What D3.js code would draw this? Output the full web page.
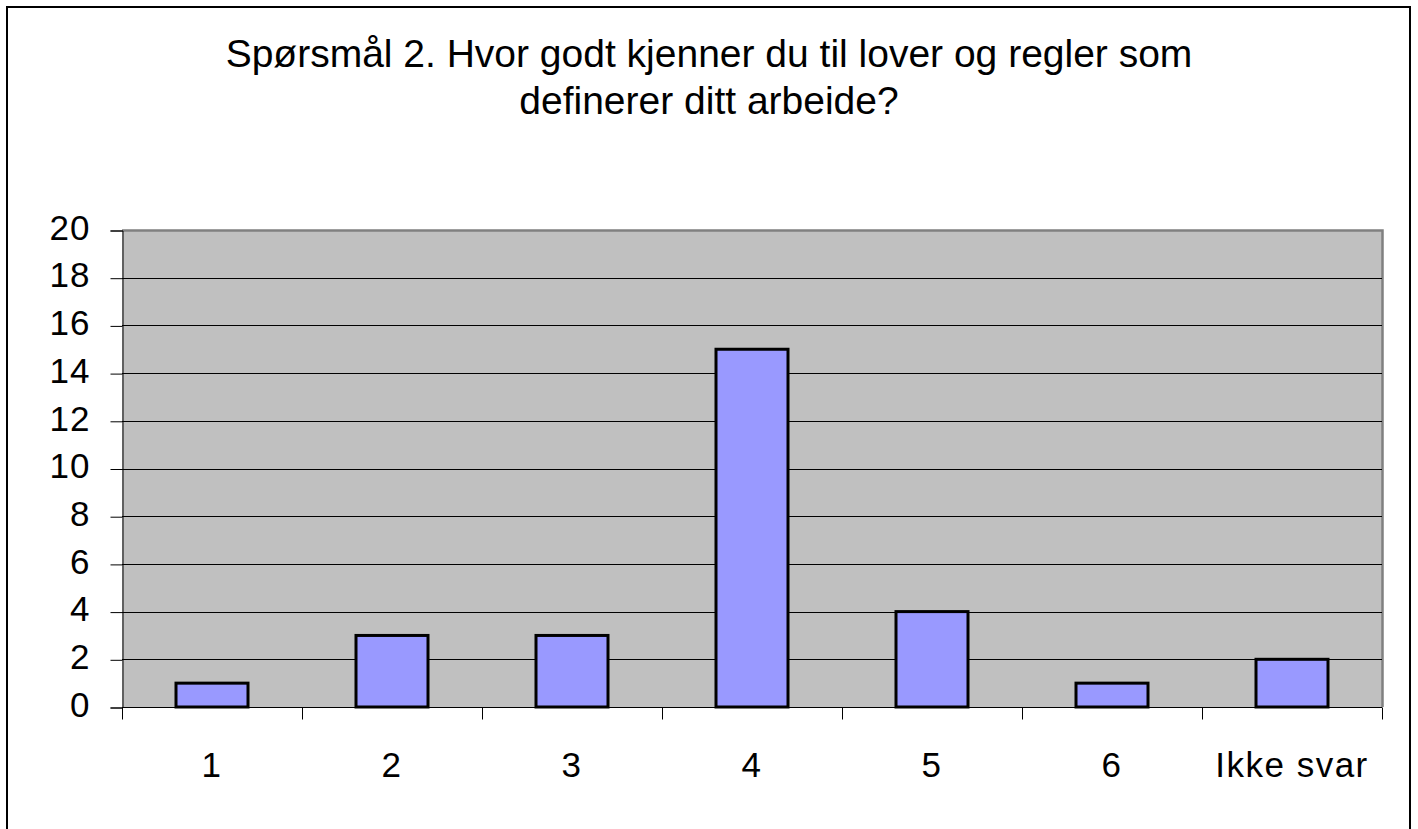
<!DOCTYPE html>
<html>
<head>
<meta charset="utf-8">
<script src="https://cdn.jsdelivr.net/npm/d3@7"></script>
<style>
  body { margin: 0; background: #fff; }
  svg { display: block; font-family: "Liberation Sans", Arial, sans-serif; }
</style>
</head>
<body>
<svg id="chart" width="1418" height="829"></svg>
<script>
// Chart data
var categories = ["1", "2", "3", "4", "5", "6", "Ikke svar"];
var counts = [1, 3, 3, 15, 4, 1, 2];
var yTicks = [0, 2, 4, 6, 8, 10, 12, 14, 16, 18, 20];
var titleLines = ["Spørsmål 2. Hvor godt kjenner du til lover og regler som", "definerer ditt arbeide?"];

var svg = d3.select("#chart");

// Plot area
var plot = {left: 122, top: 230, right: 1382, bottom: 707};

// Outer frame
svg.append("rect")
    .attr("x", 7).attr("y", 7)
    .attr("width", 1403).attr("height", 850)
    .style("fill", "white")
    .style("stroke", "black")
    .style("stroke-width", 2);

// Scales
var x = d3.scaleBand()
    .domain(categories)
    .range([plot.left, plot.right])
    .paddingInner(0.6)
    .paddingOuter(0.3);

var xTickScale = d3.scaleBand()
    .domain(categories)
    .range([plot.left, plot.right]);

var y = d3.scaleLinear()
    .domain([0, 20])
    .range([plot.bottom, plot.top]);

// Plot background
svg.append("rect")
    .attr("x", plot.left).attr("y", plot.top)
    .attr("width", plot.right - plot.left)
    .attr("height", plot.bottom - plot.top)
    .style("fill", "#c0c0c0");

// Gray border on top and right
svg.append("path")
    .attr("d", "M" + plot.left + "," + (plot.top + 0.5) + "H" + (plot.right + 0.5) + "V" + plot.bottom)
    .style("fill", "none")
    .style("stroke", "#808080")
    .style("stroke-width", 2.5);

// Gridlines
svg.append("g")
    .selectAll("line")
    .data(yTicks.filter(function(d) { return d > 0 && d < 20; }))
    .enter()
    .append("line")
    .attr("x1", plot.left).attr("x2", plot.right)
    .attr("y1", function(d) { return Math.round(y(d)) + 0.5; })
    .attr("y2", function(d) { return Math.round(y(d)) + 0.5; })
    .style("stroke", "black")
    .style("stroke-width", 1);

// Y axis
var yAxis = svg.append("g")
    .attr("transform", "translate(" + (plot.left + 0.5) + ",0.5)")
    .call(d3.axisLeft(y).tickValues(yTicks).tickSize(12).tickPadding(20));
yAxis.select(".domain").style("stroke", "black");
yAxis.selectAll(".tick line").style("stroke", "black");
yAxis.selectAll("text")
    .style("font-size", "35px")
    .style("letter-spacing", "1px")
    .style("fill", "black")
    .attr("dy", "0.25em");

// X axis
var xAxis = svg.append("g")
    .attr("transform", "translate(0," + (plot.bottom + 0.5) + ")");
xAxis.append("line")
    .attr("x1", plot.left).attr("x2", plot.right)
    .style("stroke", "black");
xAxis.selectAll(".xtick")
    .data(categories.concat(["end"]))
    .enter()
    .append("line")
    .attr("x1", function(d, i) { return Math.round(plot.left + i * xTickScale.step()) + 0.5; })
    .attr("x2", function(d, i) { return Math.round(plot.left + i * xTickScale.step()) + 0.5; })
    .attr("y1", 0).attr("y2", 12)
    .style("stroke", "black");
xAxis.selectAll(".xlabel")
    .data(categories)
    .enter()
    .append("text")
    .attr("x", function(d) { return xTickScale(d) + xTickScale.bandwidth() / 2; })
    .attr("y", 69)
    .attr("text-anchor", "middle")
    .style("font-size", "35px")
    .style("letter-spacing", "1.5px")
    .text(function(d) { return d; });

// Bars
svg.append("g")
    .selectAll("rect")
    .data(counts)
    .enter()
    .append("rect")
    .attr("x", function(d, i) { return x(categories[i]); })
    .attr("y", function(d) { return y(d); })
    .attr("width", x.bandwidth())
    .attr("height", function(d) { return plot.bottom - y(d); })
    .style("fill", "#9999ff")
    .style("stroke", "black")
    .style("stroke-width", 3);

// Title
svg.append("g")
    .selectAll("text")
    .data(titleLines)
    .enter()
    .append("text")
    .attr("x", 709)
    .attr("y", function(d, i) { return 67 + i * 47; })
    .attr("text-anchor", "middle")
    .style("font-size", "39px")
    .text(function(d) { return d; });
</script>
</body>
</html>
